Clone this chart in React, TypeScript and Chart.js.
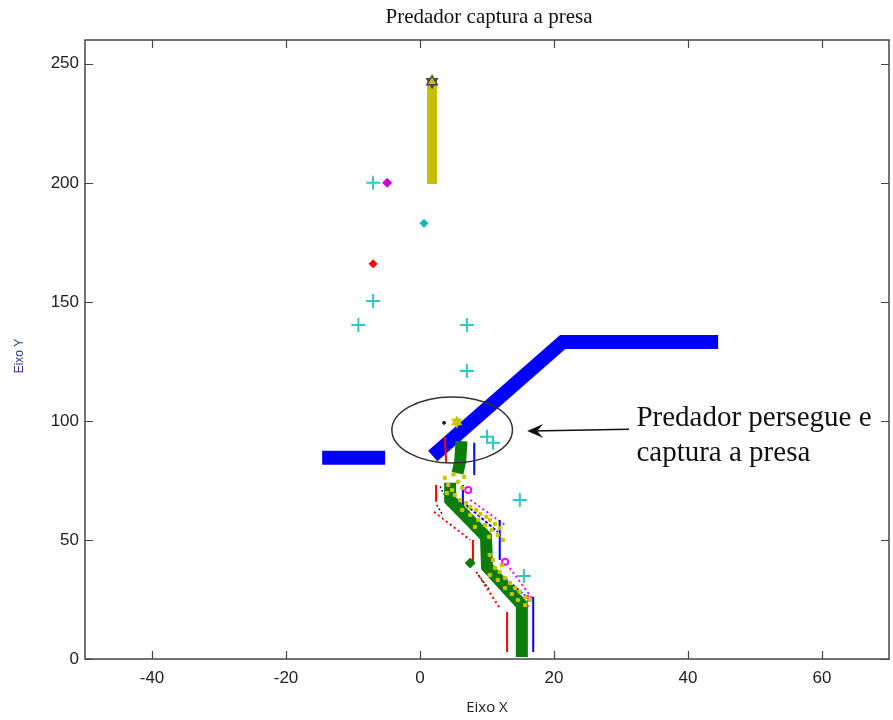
import React, { useEffect, useRef } from "react";
import { Chart, registerables } from "chart.js";
Chart.register(...registerables);

const TITLE = "Predador captura a presa";
const X_LABEL = "Eixo X";
const Y_LABEL = "Eixo Y";
const NOTE_LINES = ["Predador persegue e", "captura a presa"];
const X_TICKS = [-40, -20, 0, 20, 40, 60];
const Y_TICKS = [0, 50, 100, 150, 200, 250];
const X_MIN = -50, X_MAX = 70, Y_MIN = 0, Y_MAX = 260;

// markers
const cyanPlus = [[-7, 200], [-7, 150.4], [-9.2, 140.3], [7, 140.3], [7, 121], [10, 93.3], [10.9, 90.8], [14.9, 66.8], [15.5, 34.9]];
const magentaDiamond = [[-4.9, 200]];
const cyanDiamond = [[0.6, 183]];
const redDiamond = [[-7, 166]];
const greenDiamond = [[7.5, 40.3]];
const starPrey = [[1.8, 242.5]];
const starYellow = [[5.5, 99.5]];
const blackDot = [[3.6, 99.2]];

// thick paths
const yellowBar = [[1.8, 199.5], [1.8, 242.5]];
const blueLeft = [[-14.6, 84.5], [-5.2, 84.5]];
const blueMain = [[1.9, 85.3], [21.3, 133.2], [44.5, 133.2]];
const greenTop = [[6.2, 91.5], [6.0, 83], [5.6, 78]];
const greenMain = [[4.5, 74], [4.5, 66.8], [9.85, 51.3], [10.0, 38.7], [15.2, 22.7], [15.2, 0.8]];

// thin trails
const redSolid = [
  [[3.7, 93.3], [3.9, 82.8]],
  [[2.4, 73.1], [2.4, 66.0]],
  [[7.9, 50], [7.9, 40.8]],
  [[13, 19.7], [13, 2.9]],
];
const redDotted = [
  [[2.1, 61.8], [7.5, 50]],
  [[8.4, 36.6], [11.9, 21.4]],
];
const blueSolid = [
  [[8.1, 90.8], [8.1, 77.3]],
  [[6.4, 73.1], [6.4, 63.9]],
  [[11.9, 58.4], [11.9, 41.6]],
  [[16.9, 26.1], [16.9, 2.9]],
];
const blueDashed = [
  [[6.9, 64.7], [11.6, 53.4]],
  [[12.7, 34], [16.4, 24.8]],
];
const magentaDashed = [
  [[7.5, 66.8], [12.7, 56.3]],
  [[13.4, 38.2], [16.7, 25.6]],
  [[16.1, 26.9], [16.1, 20.6]],
];
const magentaRing = [[7.2, 71], [12.7, 40.8]];
const blackDashed = [
  [[2.5, 64.7], [3.4, 60.5]],
  [[8.7, 35.3], [10.4, 29]],
  [[3.0, 72.5], [3.6, 69]],
];

const yellowDots = [
  [3.7, 76.1], [4.2, 73.1], [4.8, 71.0], [5.7, 74.4], [6.3, 71.8], [5.2, 68.9], [4.0, 69.7], [5.0, 77.5], [6.6, 76.5],
  [6.0, 66.8], [6.9, 65.5], [7.5, 63.9], [8.4, 62.6], [9.0, 60.9], [9.9, 59.7], [10.4, 58.4],
  [11.2, 56.7], [11.9, 55.0], [7.5, 60.5], [8.7, 58.4], [9.7, 56.3], [10.7, 54.2], [11.6, 52.1],
  [12.4, 50.0], [6.3, 62.6], [8.2, 55.5], [10.3, 51.3], [10.4, 43.7], [10.9, 41.6],
  [11.2, 38.2], [11.9, 36.6], [12.7, 34.0], [13.4, 31.9], [14.2, 29.8], [14.9, 28.2], [15.7, 26.1],
  [11.6, 33.2], [12.7, 29.8], [13.7, 27.3], [14.6, 24.8], [15.7, 22.7], [16.4, 24.8], [12.2, 39.5], [10.4, 35.3],
];

// annotation: ellipse (center, radii in data units) and arrow (from, to)
const ELLIPSE = { cx: 4.8, cy: 96.2, rx: 9, ry: 13.9 };
const ARROW_FROM = [31.2, 96.5];
const ARROW_TO = [16.0, 95.8];
const NOTE_AT = [32.3, 98];

const pts = (a: number[][]) => a.map(([x, y]) => ({ x, y }));

const pathDS = (a: number[][], color: string, width: number, order: number, dash: number[] = []) => ({
  data: pts(a),
  showLine: true,
  borderColor: color,
  backgroundColor: color,
  borderWidth: width,
  borderDash: dash,
  borderCapStyle: "butt",
  borderJoinStyle: "miter",
  pointRadius: 0,
  fill: false,
  tension: 0,
  order,
});

const markDS = (a: number[][], style: string, color: string, radius: number, order: number, border = 1, borderColor?: string, rotation = 0) => ({
  data: pts(a),
  showLine: false,
  pointStyle: style,
  pointRadius: radius,
  pointRotation: rotation,
  pointBorderWidth: border,
  pointBackgroundColor: color,
  pointBorderColor: borderColor || color,
  backgroundColor: color,
  borderColor: borderColor || color,
  order,
});

const overlay = {
  id: "overlay",
  afterDraw(chart: any) {
    const { ctx, chartArea: ca, scales } = chart;
    const xs = scales.x, ys = scales.y;
    ctx.save();
    // box
    ctx.strokeStyle = "#444";
    ctx.lineWidth = 1.5;
    ctx.strokeRect(ca.left, ca.top, ca.right - ca.left, ca.bottom - ca.top);
    ctx.lineWidth = 1.2;
    ctx.beginPath();
    X_TICKS.forEach((v) => {
      const px = Math.round(xs.getPixelForValue(v)) + 0.5;
      ctx.moveTo(px, ca.bottom); ctx.lineTo(px, ca.bottom - 8);
      ctx.moveTo(px, ca.top); ctx.lineTo(px, ca.top + 8);
    });
    Y_TICKS.forEach((v) => {
      const py = Math.round(ys.getPixelForValue(v)) + 0.5;
      ctx.moveTo(ca.left, py); ctx.lineTo(ca.left + 8, py);
      ctx.moveTo(ca.right, py); ctx.lineTo(ca.right - 8, py);
    });
    ctx.stroke();

    // ellipse
    const ecx = xs.getPixelForValue(ELLIPSE.cx), ecy = ys.getPixelForValue(ELLIPSE.cy);
    const erx = Math.abs(xs.getPixelForValue(ELLIPSE.cx + ELLIPSE.rx) - ecx);
    const ery = Math.abs(ys.getPixelForValue(ELLIPSE.cy + ELLIPSE.ry) - ecy);
    ctx.strokeStyle = "#333";
    ctx.lineWidth = 1.5;
    ctx.beginPath();
    ctx.ellipse(ecx, ecy, erx, ery, 0, 0, Math.PI * 2);
    ctx.stroke();

    // arrow
    const ax0 = xs.getPixelForValue(ARROW_FROM[0]), ay0 = ys.getPixelForValue(ARROW_FROM[1]);
    const ax1 = xs.getPixelForValue(ARROW_TO[0]), ay1 = ys.getPixelForValue(ARROW_TO[1]);
    ctx.strokeStyle = "#111";
    ctx.lineWidth = 1.5;
    ctx.beginPath();
    ctx.moveTo(ax0, ay0); ctx.lineTo(ax1 + 4, ay1);
    ctx.stroke();
    ctx.fillStyle = "#111";
    ctx.beginPath();
    ctx.moveTo(ax1, ay1);
    ctx.lineTo(ax1 + 16, ay1 - 7);
    ctx.lineTo(ax1 + 10, ay1);
    ctx.lineTo(ax1 + 16, ay1 + 7);
    ctx.closePath();
    ctx.fill();

    // note text
    ctx.fillStyle = "#111";
    ctx.font = '29px "Liberation Serif", "Times New Roman", serif';
    ctx.textAlign = "left";
    ctx.textBaseline = "alphabetic";
    const nx = xs.getPixelForValue(NOTE_AT[0]), ny = ys.getPixelForValue(NOTE_AT[1]);
    NOTE_LINES.forEach((t, i) => ctx.fillText(t, nx, ny + i * 35));

    // title
    ctx.font = '21px "Liberation Serif", "Times New Roman", serif';
    ctx.textAlign = "center";
    ctx.textBaseline = "middle";
    ctx.fillText(TITLE, (ca.left + ca.right) / 2 + 2, 17);

    // x label
    ctx.fillStyle = "#222";
    ctx.font = '15px "Open Sans", "Liberation Sans", sans-serif';
    ctx.fillText(X_LABEL, (ca.left + ca.right) / 2, 708);

    // y label
    ctx.save();
    ctx.translate(20, 356);
    ctx.rotate(-Math.PI / 2);
    ctx.fillStyle = "#1f3a8a";
    ctx.font = '12px "Liberation Sans", Arial, sans-serif';
    ctx.fillText(Y_LABEL, 0, 0);
    ctx.restore();
    ctx.restore();
  },
};

export default function App() {
  const ref = useRef<HTMLCanvasElement>(null);
  useEffect(() => {
    document.body.style.margin = "0";
    const datasets: any[] = [];
    datasets.push(pathDS(blueLeft, "#0000ff", 14, 20));
    datasets.push(pathDS(blueMain, "#0000ff", 14, 20));
    datasets.push(pathDS(yellowBar, "#c4c000", 10, 15));
    redSolid.forEach((s) => datasets.push(pathDS(s, "#ff0000", 2, 12)));
    redDotted.forEach((s) => datasets.push(pathDS(s, "#ff0000", 2, 12, [2, 3])));
    blackDashed.forEach((s) => datasets.push(pathDS(s, "#222", 1.5, 12, [2, 2])));
    blueSolid.forEach((s) => datasets.push(pathDS(s, "#0000ff", 2, 12)));
    blueDashed.forEach((s) => datasets.push(pathDS(s, "#0000ff", 2, 12, [3, 2])));
    magentaDashed.forEach((s) => datasets.push(pathDS(s, "#ff00ff", 2, 12, [2, 3])));
    datasets.push(markDS(magentaRing, "circle", "rgba(0,0,0,0)", 3, 11, 2, "#ff00ff"));
    datasets.push(pathDS(greenTop, "#0a7d0a", 12, 8));
    datasets.push(pathDS(greenMain, "#0a7d0a", 12, 8));
    datasets.push(markDS(yellowDots, "rect", "#c8c400", 2.2, 6));
    datasets.push(markDS(greenDiamond, "rectRot", "#0a7d0a", 5, 2));
    datasets.push(markDS(cyanPlus, "cross", "#2ec8c8", 7, 1, 2));
    datasets.push(markDS(magentaDiamond, "rectRot", "#cc00cc", 4.5, 1));
    datasets.push(markDS(cyanDiamond, "rectRot", "#11b8b8", 4, 1));
    datasets.push(markDS(redDiamond, "rectRot", "#ff0000", 4, 1));
    datasets.push(markDS(starPrey, "triangle", "#c4c000", 6, 1, 1.5, "#444", 0));
    datasets.push(markDS(starPrey, "triangle", "#c4c000", 6, 1, 1.5, "#444", 180));
    datasets.push(markDS(starYellow, "triangle", "#c8c400", 5, 1, 1.5, "#c8c400", 0));
    datasets.push(markDS(starYellow, "triangle", "#c8c400", 5, 1, 1.5, "#c8c400", 180));
    datasets.push(markDS(blackDot, "circle", "#222", 1.5, 1));

    const tickFont = { family: '"Liberation Sans", Arial, sans-serif', size: 17 };
    const chart = new Chart(ref.current!, {
      type: "scatter",
      data: { datasets },
      plugins: [overlay],
      options: {
        animation: false,
        responsive: false,
        maintainAspectRatio: false,
        layout: { autoPadding: false, padding: { left: 0, right: 4, top: 40, bottom: 0 } },
        plugins: { legend: { display: false }, tooltip: { enabled: false }, title: { display: false } },
        scales: {
          x: {
            type: "linear",
            min: X_MIN,
            max: X_MAX,
            grid: { display: false, drawTicks: false },
            border: { display: false },
            ticks: { color: "#222", font: tickFont, padding: 9, maxRotation: 0 },
            afterBuildTicks: (s: any) => { s.ticks = X_TICKS.map((v) => ({ value: v })); },
            afterFit: (s: any) => { s.height = 61; s.paddingLeft = 0; s.paddingRight = 0; },
          },
          y: {
            type: "linear",
            min: Y_MIN,
            max: Y_MAX,
            grid: { display: false, drawTicks: false },
            border: { display: false },
            ticks: { color: "#222", font: tickFont, padding: 6 },
            afterBuildTicks: (s: any) => { s.ticks = Y_TICKS.map((v) => ({ value: v })); },
            afterFit: (s: any) => { s.width = 85; s.paddingTop = 0; s.paddingBottom = 0; },
          },
        },
      } as any,
    });
    return () => chart.destroy();
  }, []);
  return (
    <div style={{ width: 893, height: 720 }}>
      <canvas ref={ref} width={893} height={720} style={{ display: "block" }} />
    </div>
  );
}
